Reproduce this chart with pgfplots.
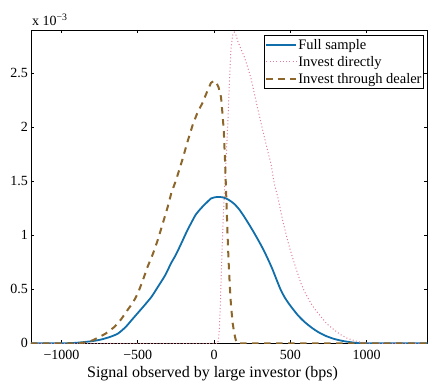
\documentclass[border=0pt]{standalone}
\usepackage{fontspec}
\setmainfont{Liberation Serif}
\usepackage{pgfplots}
\pgfplotsset{compat=1.18}
\definecolor{cblue}{RGB}{16,110,170}
\definecolor{cbrown}{RGB}{140,102,42}
\definecolor{cpink}{RGB}{225,125,150}
\begin{document}
\begin{tikzpicture}
\begin{axis}[
  name=ax,
  scale only axis,
  width=396.5bp, height=313.3bp,
  xmin=-1200, xmax=1400, ymin=0, ymax=2.9,
  axis line style={line width=0.9bp, black},
  tick align=inside,
  tick style={black, line width=0.7bp},
  major tick length=3.5bp,
  xtick={-1000,-500,0,500,1000},
  xticklabels={−1000,−500,0,500,1000},
  ytick={0,0.5,1,1.5,2,2.5},
  yticklabels={0,0.5,1,1.5,2,2.5},
  xticklabel style={font=\fontsize{14bp}{16bp}\selectfont, anchor=base, yshift=-16bp, inner sep=0pt},
  yticklabel style={font=\fontsize{14bp}{16bp}\selectfont, anchor=east, inner sep=0pt, xshift=-3bp},
  xlabel={Signal observed by large investor (bps)},
  xlabel style={font=\fontsize{16bp}{18bp}\selectfont, at={(rel axis cs:0.4578,0)}, anchor=base, yshift=-34bp, inner sep=0pt},
  legend style={at={(rel axis cs:1,1)}, anchor=north east, xshift=-3.5bp, yshift=-5bp,
    draw=black, line width=0.9bp, inner xsep=1bp, inner ysep=2bp,
    font=\fontsize{14.5bp}{16bp}\selectfont, row sep=2.5bp,
    nodes={inner xsep=1bp, inner ysep=1.5bp}},
  legend cell align=left,
  legend image code/.code={\draw[#1] (0bp,0bp) -- (30bp,0bp);},
  clip=true,
]
\addplot[cblue, line width=1.8bp, smooth, tension=0.4] coordinates {
(-1200,0) (-1000,0) (-900,0.005) (-800,0.02) (-740,0.035) (-680,0.06) (-630,0.09)
(-580,0.15) (-540,0.215) (-500,0.28) (-457,0.35) (-410,0.43) (-369,0.52) (-320,0.63)
(-282,0.74) (-250,0.82) (-216,0.92) (-180,1.03) (-151,1.11) (-120,1.19) (-85,1.25)
(-50,1.30) (-20,1.34) (0,1.35) (30,1.355) (60,1.35) (80,1.34) (105,1.32) (133,1.29)
(165,1.24) (199,1.17) (230,1.10) (264,1.02) (300,0.93) (330,0.85) (360,0.76) (385,0.68)
(410,0.59) (439,0.49) (470,0.41) (505,0.34) (550,0.26) (592,0.20) (640,0.145) (680,0.107)
(730,0.07) (789,0.04) (850,0.02) (920,0.006) (990,0) (1400,0)
};
\addlegendentry{Full sample}
\addplot[cpink, line width=1bp, dash pattern=on 1bp off 2.3bp] coordinates {
(-1200,0) (24,0) (30,0.04) (36,0.15) (42,0.38) (48,0.65) (55,0.95) (62,1.2) (70,1.45)
(80,1.72) (90,2.02) (100,2.38) (111,2.72) (122,2.85) (133,2.88) (145,2.85) (155,2.80)
(175,2.73) (199,2.65) (220,2.56) (243,2.45) (265,2.31) (287,2.17) (310,2.03) (330,1.91)
(352,1.78) (374,1.66) (391,1.51) (400,1.45) (418,1.355) (450,1.14) (482,0.955) (505,0.84)
(527,0.74) (550,0.64) (570,0.555) (600,0.46) (636,0.37) (670,0.30) (702,0.246) (740,0.18)
(789,0.123) (830,0.08) (875,0.046) (920,0.025) (961,0.01) (1000,0.003) (1046,0) (1400,0)
};
\addlegendentry{Invest directly}
\addplot[cbrown, line width=2bp, dash pattern=on 6.5bp off 5.5bp] coordinates {
(-1200,0) (-900,0) (-860,0.005) (-800,0.025) (-763,0.05) (-710,0.09) (-654,0.15)
(-610,0.22) (-566,0.31) (-530,0.38) (-500,0.46) (-470,0.57) (-435,0.71) (-400,0.83)
(-369,0.955) (-340,1.09) (-304,1.26) (-280,1.39) (-249,1.51) (-205,1.71) (-175,1.86)
(-140,2.02) (-110,2.13) (-74,2.23) (-45,2.33) (-20,2.41) (0,2.43) (13,2.42) (30,2.37)
(46,2.28) (56,2.12) (64,1.97) (72,1.70) (80,1.38) (88,1.04) (95,0.78) (103,0.55)
(111,0.36) (122,0.19) (133,0.09) (143,0.03) (152,0) (1400,0)
};
\addlegendentry{Invest through dealer}
\end{axis}
\node[anchor=base west, inner sep=0pt, font=\fontsize{14bp}{16bp}\selectfont] at ([xshift=1bp,yshift=4bp]ax.north west) {x 10\textsuperscript{−3}};
\pgfresetboundingbox
\path ([xshift=-31bp,yshift=-37.7bp]ax.south west) rectangle ([xshift=0.5bp,yshift=30bp]ax.north east);
\end{tikzpicture}
\end{document}
